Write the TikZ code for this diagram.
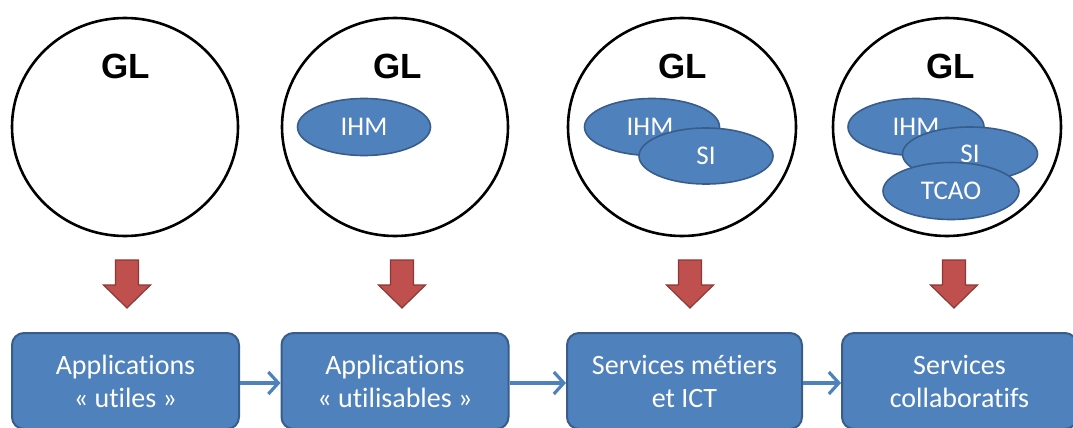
\documentclass[tikz,border=0pt]{standalone}
\usepackage{fontspec}
\setmainfont[Ligatures=NoCommon]{Carlito}
\newfontfamily\glfont{Liberation Sans}
\usetikzlibrary{shapes.geometric,arrows.meta,calc}
\definecolor{boxblue}{HTML}{4F81BD}
\definecolor{boxedge}{HTML}{385D8A}
\definecolor{redfill}{HTML}{C0504D}
\definecolor{rededge}{HTML}{8C3836}
\tikzset{
  glcircle/.style={draw=black, line width=2.6pt, fill=white},
  gltext/.style={font=\glfont\bfseries\fontsize{35}{35}\selectfont, inner sep=0pt},
  blob/.style={ellipse, draw=boxedge, line width=1.6pt, fill=boxblue, text=white,
     font=\fontsize{27}{27}\selectfont, inner sep=0pt},
  stagebox/.style={rectangle, rounded corners=12pt, draw=boxedge, line width=2pt, fill=boxblue,
     text=white, font=\fontsize{28}{33}\selectfont, align=center, minimum width=227pt,
     minimum height=96pt, inner sep=0pt},
  flow/.style={draw=boxblue, line width=3.2pt, -{Straight Barb[length=10pt,width=22pt,line width=3.2pt]}},
  redarrow/.style={draw=rededge, line width=1.2pt, fill=redfill, line join=miter}
}
\newcommand\downarrowat[1]{%
  \draw[redarrow] ($(#1)+(-11.5,0)$) -- ++(23,0) -- ++(0,25) -- ++(12,0) -- ($(#1)+(0,48)$)
     -- ($(#1)+(-23.5,25)$) -- ++(12,0) -- cycle;}
\begin{document}
\begin{tikzpicture}[x=1pt,y=-1pt]
\useasboundingbox (0,0) rectangle (1073,428);
\begin{scope}
\clip (0,0) rectangle (1073,428);
% circles
\draw[glcircle] (125,127) ellipse [x radius=113, y radius=109];
\node[gltext] (gl1) at (126,66) {GL};
\draw[glcircle] (395,127) ellipse [x radius=113, y radius=109];
\node[gltext] (gl2) at (398,66) {GL};
\draw[glcircle] (682,127) ellipse [x radius=114, y radius=109];
\node[gltext] (gl3) at (683,66) {GL};
\draw[glcircle] (947,127) ellipse [x radius=114, y radius=109];
\node[gltext] (gl4) at (951,66) {GL};
% blobs
\node[blob, minimum width=133pt, minimum height=57pt] (ihm2) at (364,127) {IHM};
\node[blob, minimum width=135pt, minimum height=57pt] (ihm3) at (652,127) {\hspace*{-4pt}IHM};
\node[blob, minimum width=134pt, minimum height=56pt] (si3) at (706,156) {SI};
\node[blob, minimum width=136pt, minimum height=57pt] (ihm4) at (916,127) {IHM};
\node[blob, minimum width=135pt, minimum height=54pt] (si4) at (970,154) {SI};
\node[blob, minimum width=136pt, minimum height=57pt] (tcao4) at (951,191) {TCAO};
% red arrows
\coordinate (d1) at (127,260);
\coordinate (d2) at (402,260);
\coordinate (d3) at (690,260);
\coordinate (d4) at (954,260);
\downarrowat{d1}
\downarrowat{d2}
\downarrowat{d3}
\downarrowat{d4}
% boxes
\node[stagebox] (b1) at (125.5,381) {Applications\\«~utiles~»};
\node[stagebox] (b2) at (395,381) {Applications\\«~utilisables~»};
\node[stagebox, minimum width=235pt] (b3) at (684.5,381) {Services métiers\\et ICT};
\node[stagebox, minimum width=235pt] (b4) at (959.5,381) {Services\\collaboratifs};
% flow arrows
\draw[flow] (b1.east |- 0,383) -- (b2.west |- 0,383);
\draw[flow] (b2.east |- 0,383) -- (b3.west |- 0,383);
\draw[flow] (b3.east |- 0,383) -- (b4.west |- 0,383);
\end{scope}
\end{tikzpicture}
\end{document}
